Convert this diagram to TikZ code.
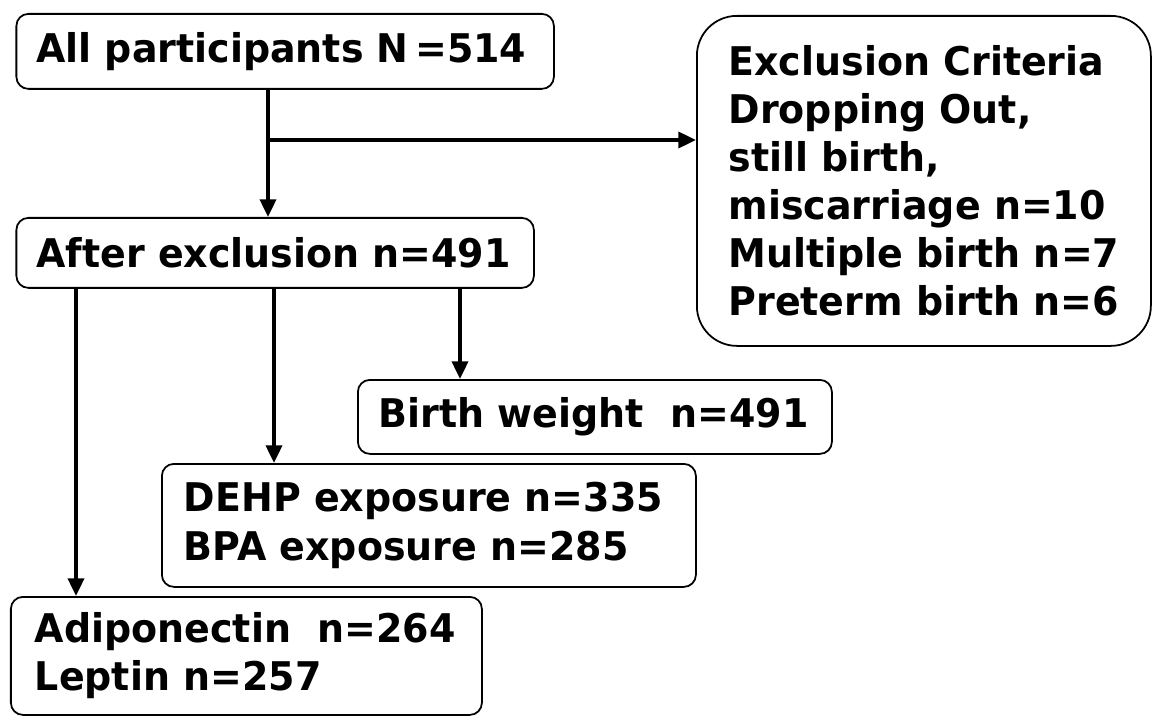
\documentclass[tikz,border=0pt]{standalone}
\usepackage{fontspec}
\setmainfont{DejaVu Sans}[FakeStretch=0.96]
\usetikzlibrary{arrows.meta}
\begin{document}
\begin{tikzpicture}[box/.style={draw, line width=1pt, rounded corners=0.24cm, anchor=north west, align=left, font=\fontsize{22.5}{27.4}\selectfont\bfseries}, arr/.style={->, line width=2.2pt}, >={Triangle[length=10pt,width=9pt]}]
    \useasboundingbox (0,0) rectangle (23.08,-14.32);
    \node[box, inner xsep=0.4cm, text width=9.95cm, minimum height=1.5cm] (all) at (0.31,-0.26) {All participants N\,=514};
    \node[box, inner xsep=0.4cm, text width=9.55cm, minimum height=1.4cm] (after) at (0.31,-4.34) {After exclusion n=491};
    \node[box, rounded corners=0.8cm, minimum width=9.08cm, minimum height=6.6cm] (excl) at (13.92,-0.3) {Exclusion Criteria\\Dropping Out,\\still birth,\\miscarriage n=10\\Multiple birth n=7\\Preterm birth n=6};
    \node[box, inner xsep=0.42cm, text width=8.64cm, minimum height=1.48cm] (bw) at (7.14,-7.58) {Birth weight\ \ n=491};
    \node[box, inner xsep=0.44cm, text width=9.8cm, minimum height=2.46cm] (expo) at (3.22,-9.26) {DEHP exposure n=335\\BPA exposure n=285};
    \node[box, inner xsep=0.48cm, text width=8.46cm, minimum height=2.36cm] (adipo) at (0.2,-11.92) {Adiponectin\ \ n=264\\Leptin n=257};

    \coordinate (x0) at (5.36,0);
    \coordinate (br) at (5.36,-2.8);
    \coordinate (x1) at (1.52,0);
    \coordinate (x2) at (5.48,0);
    \coordinate (x3) at (9.2,0);

    \draw[arr] (all.south -| x0) -- (after.north -| x0);
    \draw[arr] (br) -- (br -| excl.west);
    \draw[arr] (after.south -| x1) -- (adipo.north -| x1);
    \draw[arr] (after.south -| x2) -- (expo.north -| x2);
    \draw[arr] (after.south -| x3) -- (bw.north -| x3);
\end{tikzpicture}
\end{document}
